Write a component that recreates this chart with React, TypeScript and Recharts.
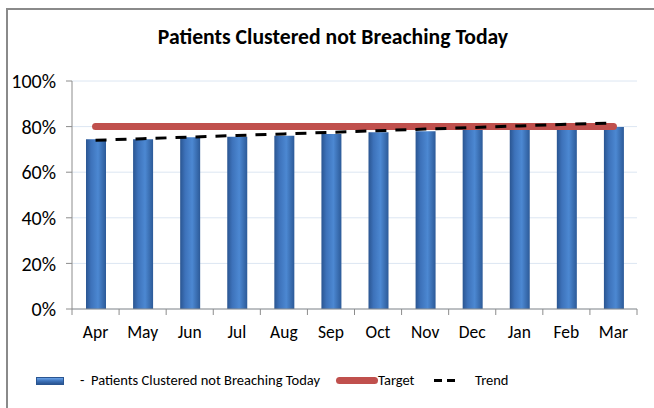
import React from "react";
import {
  ComposedChart,
  Bar,
  Line,
  XAxis,
  YAxis,
  CartesianGrid,
} from "recharts";

const months = ["Apr", "May", "Jun", "Jul", "Aug", "Sep", "Oct", "Nov", "Dec", "Jan", "Feb", "Mar"];
const patients = [0.745, 0.745, 0.753, 0.755, 0.76, 0.767, 0.775, 0.78, 0.785, 0.79, 0.795, 0.798];
const target = [0.8, 0.8, 0.8, 0.8, 0.8, 0.8, 0.8, 0.8, 0.8, 0.8, 0.8, 0.8];
const trend = [0.74, 0.747, 0.754, 0.761, 0.768, 0.775, 0.782, 0.789, 0.796, 0.803, 0.81, 0.816];
const yTicks = [0, 0.2, 0.4, 0.6, 0.8, 1];

const data = months.map((m, i) => ({
  month: m,
  patients: patients[i],
  target: target[i],
  trend: trend[i],
}));

const W = 654;
const H = 408;
const LEFT = 72;
const RIGHT = 17;
const TOP = 81;
const BOTTOM = 99;
const TICK_SIZE = 6;
const TICK_MARGIN = 10;
const BAND = (W - LEFT - RIGHT) / months.length;
const FONT = "Carlito, 'Liberation Sans Narrow', 'Liberation Sans', Arial, sans-serif";

function MonthTick(props: any) {
  const { x, y, payload, index } = props;
  const axisY = y - TICK_SIZE - TICK_MARGIN;
  const left = x - BAND / 2;
  return (
    <g>
      <line x1={left} x2={left} y1={axisY} y2={axisY + 6} stroke="#8c8c8c" />
      {index === months.length - 1 && (
        <line x1={x + BAND / 2} x2={x + BAND / 2} y1={axisY} y2={axisY + 6} stroke="#8c8c8c" />
      )}
      <text x={x} y={y + 13} textAnchor="middle" fontSize={17.5} fill="#000" fontFamily={FONT}>
        {payload.value}
      </text>
    </g>
  );
}

export default function App() {
  return (
    <div style={{ position: "absolute", left: 0, top: 0, width: W, height: H, background: "#fff", overflow: "hidden", fontFamily: FONT }}>
      <div
        style={{
          position: "absolute",
          left: 6,
          top: 8,
          width: 670,
          height: 420,
          border: "2px solid #8a8a8a",
          boxSizing: "border-box",
        }}
      />
      <div
        style={{
          position: "absolute",
          left: 0,
          width: 666,
          top: 24,
          textAlign: "center",
          fontWeight: "bold",
          fontSize: 21.7,
          lineHeight: "26px",
          color: "#000",
        }}
      >
        Patients Clustered not Breaching Today
      </div>
      <div style={{ position: "absolute", left: 0, top: 0 }}>
        <ComposedChart
          width={W}
          height={H}
          data={data}
          margin={{ top: TOP, right: RIGHT, left: 0, bottom: BOTTOM - 30 }}
        >
          <defs>
            <linearGradient id="barGrad" x1="0" y1="0" x2="1" y2="0">
              <stop offset="0%" stopColor="#2a5591" />
              <stop offset="25%" stopColor="#3d72ba" />
              <stop offset="60%" stopColor="#4c88d2" />
              <stop offset="100%" stopColor="#2c5a98" />
            </linearGradient>
          </defs>
          <CartesianGrid vertical={false} stroke="#dce6f2" />
          <XAxis
            dataKey="month"
            height={30}
            tickSize={TICK_SIZE}
            tickMargin={TICK_MARGIN}
            tickLine={false}
            axisLine={{ stroke: "#8c8c8c" }}
            tick={<MonthTick />}
            interval={0}
          />
          <YAxis
            width={LEFT}
            domain={[0, 1]}
            ticks={yTicks}
            tickFormatter={(v: number) => `${Math.round(v * 100)}%`}
            tickSize={TICK_SIZE}
            tickMargin={10}
            axisLine={{ stroke: "#8c8c8c" }}
            tickLine={{ stroke: "#8c8c8c" }}
            tick={{ fill: "#000", fontSize: 20, fontFamily: FONT }}
          />
          <Bar
            dataKey="patients"
            barSize={20}
            fill="url(#barGrad)"
            isAnimationActive={false}
          />
          <Line
            dataKey="target"
            stroke="#c0504d"
            strokeWidth={7}
            strokeLinecap="round"
            dot={false}
            activeDot={false}
            isAnimationActive={false}
          />
          <Line
            dataKey="trend"
            stroke="#000"
            strokeWidth={3}
            strokeDasharray="11 9"
            dot={false}
            activeDot={false}
            isAnimationActive={false}
          />
        </ComposedChart>
      </div>
      <div style={{ position: "absolute", left: 0, top: 370, width: W, height: 22, fontSize: 14.5, color: "#000" }}>
        <div
          style={{
            position: "absolute",
            left: 36,
            top: 7,
            width: 28,
            height: 8,
            background: "linear-gradient(#6aa3e8, #3d72ba 50%, #2a5591)",
            border: "1px solid #2a5591",
            boxSizing: "border-box",
          }}
        />
        <span style={{ position: "absolute", left: 80, top: 1, whiteSpace: "nowrap" }}>-&nbsp; Patients Clustered not Breaching Today</span>
        <div style={{ position: "absolute", left: 336, top: 7, width: 42, height: 7, borderRadius: 4, background: "#c0504d" }} />
        <span style={{ position: "absolute", left: 378, top: 1 }}>Target</span>
        <div style={{ position: "absolute", left: 434, top: 9, width: 8, height: 3, background: "#000" }} />
        <div style={{ position: "absolute", left: 447, top: 9, width: 8, height: 3, background: "#000" }} />
        <span style={{ position: "absolute", left: 475, top: 1 }}>Trend</span>
      </div>
    </div>
  );
}
